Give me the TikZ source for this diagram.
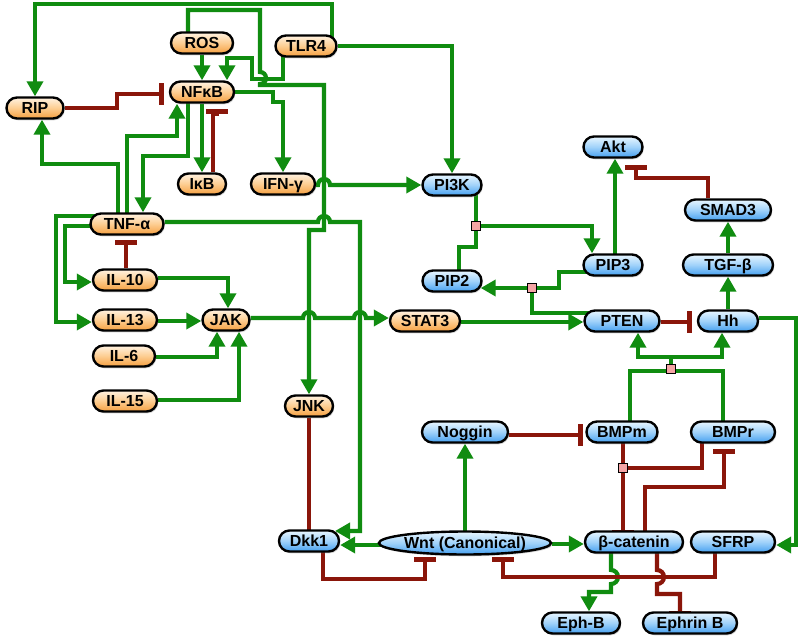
\documentclass[tikz,border=0pt]{standalone}
\usepackage{fontspec}
\setmainfont{Liberation Sans}
\usetikzlibrary{arrows.meta,shadows,shapes.geometric,backgrounds}
\definecolor{grn}{RGB}{16,140,16}
\definecolor{redc}{RGB}{138,22,10}
\definecolor{orgT}{RGB}{255,242,225}
\definecolor{orgM}{RGB}{253,205,145}
\definecolor{orgB}{RGB}{245,160,65}
\definecolor{bluT}{RGB}{232,246,255}
\definecolor{bluM}{RGB}{160,210,250}
\definecolor{bluB}{RGB}{70,160,240}
\definecolor{sqfill}{RGB}{245,165,165}
\begin{document}
\begin{tikzpicture}[x=1pt,y=-1pt,
 nd/.style={draw=black, line width=2.4pt, rounded corners=10.5pt, minimum height=21pt, inner sep=0pt,
   text height=11.4pt, text depth=0pt, font=\fontsize{16pt}{16pt}\selectfont\bfseries,
   drop shadow={shadow xshift=1.2pt, shadow yshift=-1.8pt, opacity=0.35}},
 og/.style={nd, top color=orgT, bottom color=orgB, middle color=orgM},
 bl/.style={nd, top color=bluT, bottom color=bluB, middle color=bluM},
 sq/.style={rectangle, draw=black, line width=1.4pt, fill=sqfill, minimum size=9pt, inner sep=0pt},
 gl/.style={draw=grn, line width=4.2pt},
 ga/.style={gl, -{Triangle[length=15pt,width=16pt]}},
 rl/.style={draw=redc, line width=4.2pt},
 rb/.style={rl, -{Bar[width=22pt,line width=5pt]}},
]
\useasboundingbox (0,0) rectangle (800,642);
% orange nodes
\node[og, minimum width=62pt] (ROS) at (202,43) {ROS};
\node[og, minimum width=61pt] (TLR4) at (306,46) {TLR4};
\node[og, minimum width=57pt] (RIP) at (35,108) {RIP};
\node[og, minimum width=64pt] (NFkB) at (202,92) {NFκB};
\node[og, minimum width=48pt] (IkB) at (202,184) {IκB};
\node[og, minimum width=64pt] (IFNg) at (283,184) {IFN-γ};
\node[og, minimum width=73pt] (TNFa) at (127,224) {TNF-α};
\node[og, minimum width=64pt] (IL10) at (125,280) {IL-10};
\node[og, minimum width=64pt] (IL13) at (125,320) {IL-13};
\node[og, minimum width=47pt] (JAK) at (226,320) {JAK};
\node[og, minimum width=62pt] (IL6) at (124,356) {IL-6};
\node[og, minimum width=64pt] (IL15) at (125,401) {IL-15};
\node[og, minimum width=48pt] (JNK) at (309,406) {JNK};
\node[og, minimum width=70pt] (STAT3) at (425,321) {STAT3};
% blue nodes
\node[bl, minimum width=59pt] (PI3K) at (452,185) {PI3K};
\node[bl, minimum width=59pt] (PIP2) at (452,281) {PIP2};
\node[bl, minimum width=59pt] (PIP3) at (613,265) {PIP3};
\node[bl, minimum width=59pt] (Akt) at (613,147) {Akt};
\node[bl, minimum width=86pt] (SMAD3) at (728,210) {SMAD3};
\node[bl, minimum width=90pt] (TGFb) at (728,265) {TGF-β};
\node[bl, minimum width=75pt] (PTEN) at (622,321) {PTEN};
\node[bl, minimum width=60pt] (Hh) at (728,321) {Hh};
\node[bl, minimum width=86pt] (Noggin) at (465,432) {Noggin};
\node[bl, minimum width=71pt] (BMPm) at (622,432) {BMPm};
\node[bl, minimum width=84pt] (BMPr) at (733,432) {BMPr};
\node[bl, minimum width=60pt] (Dkk1) at (309,541) {Dkk1};
\node[bl, ellipse, minimum width=168pt, minimum height=23pt] (Wnt) at (465,543) {Wnt (Canonical)};
\node[bl, minimum width=98pt] (bcat) at (634,542) {β-catenin};
\node[bl, minimum width=84pt] (SFRP) at (733,542) {SFRP};
\node[bl, minimum width=78pt] (EphB) at (581,623) {Eph-B};
\node[bl, minimum width=94pt] (EphrinB) at (690,623) {Ephrin B};
% reaction squares
\node[sq] (sq1) at (476,226) {};
\node[sq] (sq2) at (532,288) {};
\node[sq] (sq3) at (671,369) {};
\node[sq] (sq4) at (623,468) {};

\begin{scope}[on background layer]
\fill[white] (0,0) rectangle (800,642);
% ---- green activations ----
\draw[ga] (TLR4.center -| 332,0) -- (332,4) -- (35,4) -- (RIP.north);
\draw[ga] (ROS.south) -- (NFkB.north);
\draw[ga] (TLR4.center -| 283,0) -- (283,79) -- (252,79) -- (252,58) -- (227,58) -- (NFkB.north -| 227,0);
\draw[ga] (ROS.center -| 188,0) -- (188,10) -- (260,10) -- (260,72)
   arc[start angle=90,end angle=-90,radius=6pt] -- (260,85) -- (324,85) -- (324,230) -- (309,230) -- (JNK.north);
\draw[ga] (NFkB.east) -- (273,92) -- (273,102) -- (283,102) -- (IFNg.north);
\draw[ga] (NFkB.south) -- (IkB.north);
\draw[ga] (NFkB.center -| 188,0) -- (188,156) -- (143,156) -- (TNFa.north -| 143,0);
\draw[ga] (TNFa.center -| 127,0) -- (127,136) -- (177,136) -- (NFkB.south -| 177,0);
\draw[ga] (TNFa.center -| 118,0) -- (118,164) -- (42,164) -- (RIP.south -| 42,0);
\draw[ga] (TLR4.east) -- (452,46) -- (PI3K.north);
\draw[ga] (IFNg.east |- 0,185) -- (318,185) arc[start angle=180,end angle=0,radius=6pt] -- (PI3K.west |- 0,185);
\draw[ga] (TNFa.east |- 0,222) -- (318,222) arc[start angle=180,end angle=0,radius=6pt] -- (360,222) -- (360,531) -- (335,531);
\draw[ga] (TNFa.center |- 0,226) -- (65,226) -- (65,282) -- (IL10.west |- 0,282);
\draw[ga] (TNFa.center |- 0,216) -- (56,216) -- (56,322) -- (IL13.west |- 0,322);
\draw[ga] (IL10.east |- 0,278) -- (228,278) -- (JAK.north -| 228,0);
\draw[ga] (IL13.east |- 0,321) -- (JAK.west |- 0,321);
\draw[ga] (IL6.east |- 0,357) -- (217,357) -- (JAK.south -| 217,0);
\draw[ga] (IL15.east |- 0,400) -- (239,400) -- (JAK.south -| 239,0);
\draw[ga] (JAK.east |- 0,318) -- (303,318) arc[start angle=180,end angle=0,radius=6pt] -- (354,318)
   arc[start angle=180,end angle=0,radius=6pt] -- (STAT3.west |- 0,318);
\draw[ga] (STAT3.east |- 0,322) -- (PTEN.west |- 0,322);
% PI3K reaction
\draw[gl] (PI3K.center -| 476,0) -- (sq1);
\draw[gl] (PIP2.center -| 459,0) -- (459,247) -- (476,247) -- (sq1);
\draw[ga] (sq1) -- (592,226) -- (PIP3.north -| 592,0);
% PTEN reaction
\draw[gl] (PIP3.center |- 0,272) -- (559,272) -- (559,288) -- (sq2);
\draw[ga] (sq2) -- ([xshift=-2pt]PIP2.east |- 0,288);
\draw[gl] (PTEN.center |- 0,313) -- (532,313) -- (sq2);
\draw[ga] (PIP3.center -| 615,0) -- (Akt.south -| 615,0);
\draw[ga] (Hh.north) -- (TGFb.south);
\draw[ga] (TGFb.north) -- (SMAD3.south);
\draw[ga] (Hh.east |- 0,318) -- (796,318) -- (796,545) -- (SFRP.east |- 0,545);
% BMP reaction
\draw[gl] (BMPm.center -| 630,0) -- (630,371) -- (723,371) -- (BMPr.center -| 723,0);
\draw[gl] (sq3) -- (671,357);
\draw[ga] (671,357) -- (638,357) -- (PTEN.south -| 638,0);
\draw[ga] (671,357) -- (722,357) -- (Hh.south -| 722,0);
% Wnt
\draw[ga] (Wnt.center |- 0,545) -- (Dkk1.east |- 0,545);
\draw[ga] (Wnt.center) -- (Noggin.south);
\draw[ga] (Wnt.east |- 0,544) -- (bcat.west |- 0,544);
\draw[ga] (bcat.center -| 611,0) -- (611,570) arc[start angle=90,end angle=-90,radius=7pt] -- (611,592) -- (589,592) -- (EphB.north -| 589,0);
% ---- red inhibitions ----
\draw[rb] (RIP.east) -- (117,108) -- (117,94) -- ([xshift=-5pt]NFkB.west |- 0,94);
\draw[rb] (IkB.north -| 213,0) -- (213,114) -- (217,114) -- ([yshift=-5pt]NFkB.south -| 217,0);
\draw[rb] (IL10.north -| 126,0) -- ([yshift=-4pt]TNFa.south -| 126,0);
\draw[rb] (PTEN.east |- 0,322) -- ([xshift=-5pt]Hh.west |- 0,322);
\draw[rb] (SMAD3.north -| 708,0) -- (708,178) -- (636,178) -- ([yshift=-6pt]Akt.south -| 636,0);
\draw[rb] (JNK.south) -- ([yshift=-7pt]Dkk1.north);
\draw[rb] (Noggin.east |- 0,435) -- ([xshift=-2pt]BMPm.west |- 0,435);
\draw[rl] (BMPm.center -| 623,0) -- (sq4);
\draw[rl] (BMPr.center -| 702,0) -- (702,468) -- (sq4);
\draw[rb] (sq4) -- ([yshift=-5pt]bcat.north -| 623,0);
\draw[rb] (bcat.center -| 645,0) -- (645,487) -- (724,487) -- ([yshift=-5pt]BMPr.south -| 724,0);
\draw[rb] (Dkk1.center -| 323,0) -- (323,579) -- (425,579) -- (425,557);
\draw[rb] (SFRP.center -| 715,0) -- (715,577) -- (503,577) -- (503,557);
\draw[rb] (bcat.center -| 657,0) -- (657,570) arc[start angle=90,end angle=-90,radius=7pt] -- (657,594) -- (680,594) -- ([yshift=-5pt]EphrinB.north -| 680,0);
\end{scope}
\end{tikzpicture}
\end{document}
